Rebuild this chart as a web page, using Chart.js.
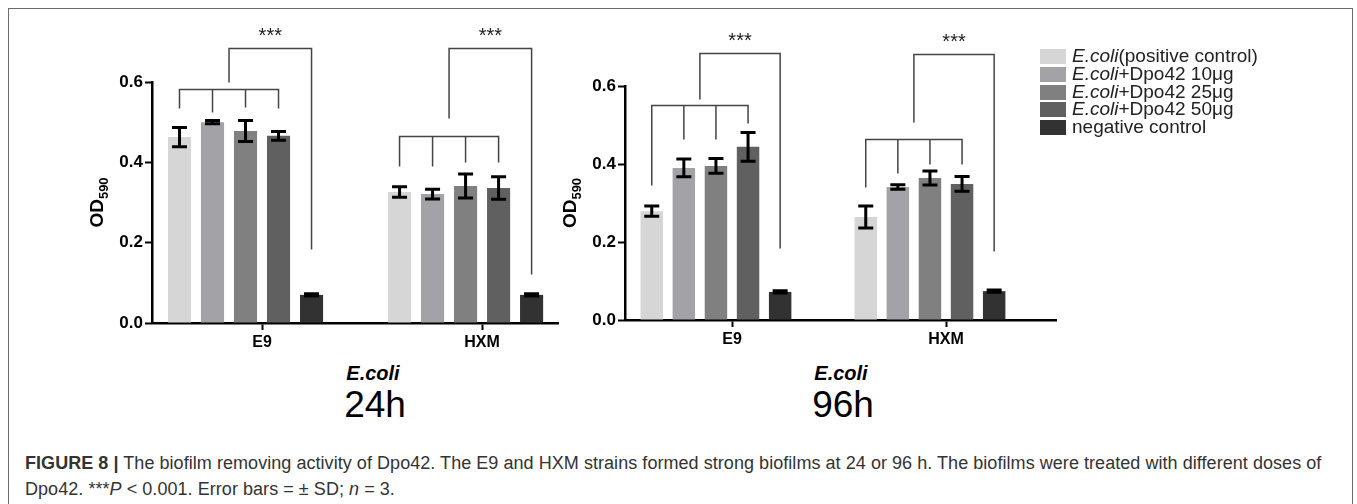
<!DOCTYPE html>
<html>
<head>
<meta charset="utf-8">
<script src="https://cdn.jsdelivr.net/npm/chart.js@4.4.0/dist/chart.umd.min.js"></script>
<style>
body{margin:0;background:#fff;width:1357px;height:504px;overflow:hidden;position:relative;font-family:"Liberation Sans",Arial,sans-serif;}
#frame{position:absolute;left:8px;top:8px;width:1343px;height:520px;border:1.5px solid #6b6b6b;border-bottom:none;}
canvas{position:absolute;}
#c24{left:0;top:0;}
#c96{left:560px;top:0;}
.lab{position:absolute;color:#000;text-align:center;white-space:nowrap;transform:translate(-50%,-50%);}
.ecoli{font-size:20px;font-weight:bold;font-style:italic;}
.hour{font-size:37px;}
#legend{position:absolute;left:1040px;top:47px;font-size:19px;color:#222;}
#legend div{height:17.8px;line-height:17.8px;white-space:nowrap;}
#legend span.sw{display:inline-block;width:26px;height:15px;vertical-align:-2px;margin-right:6px;}
#caption{position:absolute;left:25px;top:450px;font-size:18px;letter-spacing:0.05px;line-height:26px;color:#333;white-space:nowrap;}
</style>
</head>
<body>
<div id="frame"></div>
<canvas id="c24" width="600" height="360"></canvas>
<canvas id="c96" width="540" height="360"></canvas>
<div class="lab ecoli" style="left:373px;top:373px">E.coli</div>
<div class="lab hour" style="left:375px;top:405px">24h</div>
<div class="lab ecoli" style="left:841px;top:373px">E.coli</div>
<div class="lab hour" style="left:843px;top:405px">96h</div>
<div id="legend"></div>
<div id="caption"><b>FIGURE 8 |</b> The biofilm removing activity of Dpo42. The E9 and HXM strains formed strong biofilms at 24 or 96 h. The biofilms were treated with different doses of<br>Dpo42. ***<i>P</i> &lt; 0.001. Error bars = ± SD; <i>n</i> = 3.</div>
<script>
var groups = ['E9', 'HXM'];
var seriesNames = ['E.coli(positive control)', 'E.coli+Dpo42 10μg', 'E.coli+Dpo42 25μg', 'E.coli+Dpo42 50μg', 'negative control'];
var seriesColors = ['#d6d6d6', '#a3a3a7', '#808080', '#606060', '#323232'];
var yTicks = [0, 0.2, 0.4, 0.6];

// 24h means and SD, [E9, HXM]
var pos24 = [0.463, 0.326], pos24Sd = [0.024, 0.013];
var d10_24 = [0.500, 0.321], d10_24Sd = [0.004, 0.012];
var d25_24 = [0.478, 0.341], d25_24Sd = [0.026, 0.030];
var d50_24 = [0.466, 0.336], d50_24Sd = [0.011, 0.028];
var neg24 = [0.070, 0.070], neg24Sd = [0.003, 0.003];

// 96h
var pos96 = [0.279, 0.264], pos96Sd = [0.013, 0.028];
var d10_96 = [0.390, 0.341], d10_96Sd = [0.023, 0.006];
var d25_96 = [0.395, 0.364], d25_96Sd = [0.019, 0.018];
var d50_96 = [0.444, 0.349], d50_96Sd = [0.037, 0.019];
var neg96 = [0.072, 0.074], neg96Sd = [0.003, 0.003];

// significance brackets (OD units): lower bar, its 4 leg ends, stem end, upper bar, right leg end
var sig24 = [[0.583, 0.535, 0.525, 0.537, 0.535, 0.600, 0.685, 0.184],
             [0.466, 0.390, 0.390, 0.400, 0.400, 0.510, 0.685, 0.122]];
var sig96 = [[0.551, 0.346, 0.464, 0.464, 0.505, 0.567, 0.685, 0.184],
             [0.464, 0.341, 0.377, 0.400, 0.400, 0.508, 0.682, 0.177]];

var FONT = "'Liberation Sans', Arial, sans-serif";

// html legend
var lg = document.getElementById('legend');
seriesNames.forEach(function(name, i){
    var txt = name.indexOf('E.coli') === 0 ? '<i>E.coli</i>' + name.slice(6) : name;
    lg.innerHTML += '<div><span class="sw" style="background:' + seriesColors[i] + '"></span>' + txt + '</div>';
});

function makeChart(id, means, sds, sig, xmax, pad){
    var datasets = means.map(function(arr, i){
        return {
            label: seriesNames[i],
            data: arr.map(function(v, j){ return {x: j, y: v}; }),
            backgroundColor: seriesColors[i]
        };
    });
    // empty slot, GraphPad leaves one after each group
    datasets.push({label: '', data: [{x: 0, y: null}, {x: 1, y: null}], backgroundColor: 'rgba(0,0,0,0)'});

    var extras = {
        id: 'extras',
        afterDatasetsDraw: function(chart){
            var ctx = chart.ctx, y = chart.scales.y;
            ctx.save();
            ctx.strokeStyle = '#000';
            ctx.lineWidth = 3;
            sds.forEach(function(arr, i){
                chart.getDatasetMeta(i).data.forEach(function(bar, j){
                    var v = means[i][j];
                    var t = y.getPixelForValue(v + arr[j]), b = y.getPixelForValue(v - arr[j]);
                    ctx.beginPath();
                    ctx.moveTo(bar.x, t); ctx.lineTo(bar.x, b);
                    ctx.moveTo(bar.x - 7.5, t); ctx.lineTo(bar.x + 7.5, t);
                    ctx.moveTo(bar.x - 7.5, b); ctx.lineTo(bar.x + 7.5, b);
                    ctx.stroke();
                });
            });
            ctx.restore();
        },
        afterDraw: function(chart){
            var ctx = chart.ctx, y = chart.scales.y, area = chart.chartArea;
            var px = function(v){ return Math.round(y.getPixelForValue(v)) + 0.5; };
            ctx.save();
            ctx.strokeStyle = '#444';
            ctx.lineWidth = 1.5;
            ctx.fillStyle = '#222';
            ctx.font = '20px ' + FONT;
            ctx.textAlign = 'center';
            ctx.textBaseline = 'middle';
            sig.forEach(function(b, g){
                var xs = [0, 1, 2, 3, 4].map(function(i){ return chart.getDatasetMeta(i).data[g].x; });
                var mid = (xs[0] + xs[3]) / 2;
                ctx.beginPath();
                ctx.moveTo(xs[0], px(b[1])); ctx.lineTo(xs[0], px(b[0]));
                ctx.lineTo(xs[3], px(b[0])); ctx.lineTo(xs[3], px(b[4]));
                ctx.moveTo(xs[1], px(b[0])); ctx.lineTo(xs[1], px(b[2]));
                ctx.moveTo(xs[2], px(b[0])); ctx.lineTo(xs[2], px(b[3]));
                ctx.moveTo(mid, px(b[5])); ctx.lineTo(mid, px(b[6]));
                ctx.lineTo(xs[4], px(b[6])); ctx.lineTo(xs[4], px(b[7]));
                ctx.stroke();
                ctx.fillText('***', (mid + xs[4]) / 2, px(b[6]) - 12);
            });
            // y title OD590
            ctx.fillStyle = '#000';
            ctx.translate(area.left - 56, (area.top + area.bottom) / 2);
            ctx.rotate(-Math.PI / 2);
            ctx.textAlign = 'left';
            ctx.font = 'bold 19px ' + FONT;
            var w1 = ctx.measureText('OD').width;
            ctx.font = 'bold 13px ' + FONT;
            var w2 = ctx.measureText('590').width;
            var x0 = -(w1 + w2) / 2;
            ctx.textBaseline = 'alphabetic';
            ctx.font = 'bold 19px ' + FONT;
            ctx.fillText('OD', x0, 7);
            ctx.font = 'bold 13px ' + FONT;
            ctx.fillText('590', x0 + w1, 12);
            ctx.restore();
        }
    };

    var axisGrid = {display: true, drawOnChartArea: false, drawTicks: true, tickLength: 7, tickWidth: 2, tickColor: '#000', offset: false};
    var tickFont = {family: FONT, size: 17, weight: 'bold'};

    return new Chart(document.getElementById(id).getContext('2d'), {
        type: 'bar',
        data: {datasets: datasets},
        options: {
            responsive: false,
            animation: false,
            categoryPercentage: 0.9,
            barPercentage: 0.7,
            layout: {padding: pad},
            plugins: {legend: {display: false}, tooltip: {enabled: false}},
            scales: {
                x: {
                    type: 'linear', min: -0.5, max: xmax, offset: false,
                    afterBuildTicks: function(s){ s.ticks = groups.map(function(g, i){ return {value: i}; }); },
                    afterFit: function(s){ s.height = 30; },
                    grid: axisGrid,
                    border: {display: true, color: '#000', width: 2.5},
                    ticks: {callback: function(v){ return groups[v]; }, color: '#000', font: {family: FONT, size: 16, weight: 'bold'}, padding: 3, maxRotation: 0, autoSkip: false}
                },
                y: {
                    min: 0, max: 0.6,
                    afterBuildTicks: function(s){ s.ticks = yTicks.map(function(v){ return {value: v}; }); },
                    afterFit: function(s){ s.width = 50; },
                    grid: axisGrid,
                    border: {display: true, color: '#000', width: 2.5},
                    ticks: {callback: function(v){ return v.toFixed(1); }, color: '#000', font: tickFont, padding: 2}
                }
            }
        },
        plugins: [extras]
    });
}

makeChart('c24', [pos24, d10_24, d25_24, d50_24, neg24], [pos24Sd, d10_24Sd, d25_24Sd, d50_24Sd, neg24Sd],
          sig24, 1.345, {left: 102, right: 42, top: 82, bottom: 7});
makeChart('c96', [pos96, d10_96, d25_96, d50_96, neg96], [pos96Sd, d10_96Sd, d25_96Sd, d50_96Sd, neg96Sd],
          sig96, 1.514, {left: 15, right: 44, top: 86, bottom: 10});
</script>
</body>
</html>
